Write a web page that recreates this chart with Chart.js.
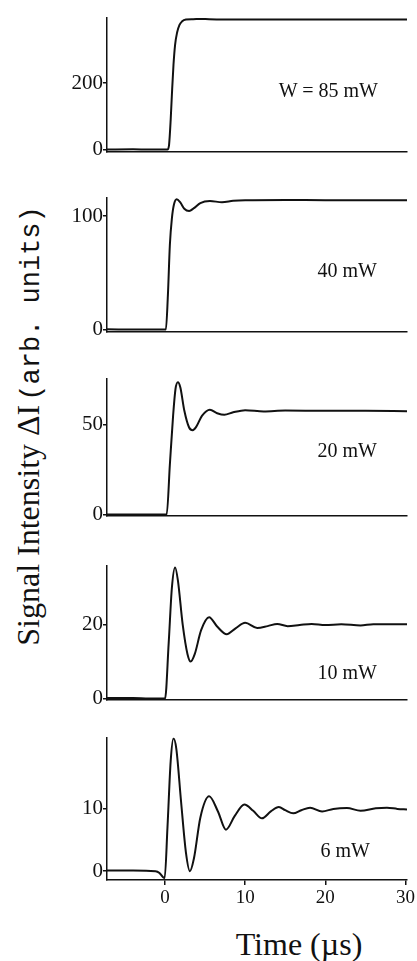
<!DOCTYPE html>
<html>
<head>
<meta charset="utf-8">
<script src="https://cdn.jsdelivr.net/npm/chart.js@4.4.1/dist/chart.umd.min.js"></script>
<style>
  html, body { margin: 0; padding: 0; background: #fff; }
  body { width: 417px; height: 961px; position: relative; overflow: hidden; }
  .panel { position: absolute; left: 0; }
  .lbl { position: absolute; font-family: 'Liberation Serif', 'Times New Roman', serif; font-size: 20px; color: #111; white-space: nowrap; transform: translate(-100%, -50%); }
  #ytitle { position: absolute; left: 28px; top: 426px; white-space: nowrap; color: #111;
    transform: translate(-50%, -50%) rotate(-90deg); }
  #ytitle .s { font-family: 'Liberation Serif', 'Times New Roman', serif; font-size: 32px; }
  #ytitle .m { font-family: 'Liberation Mono', 'Courier New', monospace; font-size: 27px; }
  #xtitle { position: absolute; left: 299px; top: 944px; transform: translate(-50%, -50%); white-space: nowrap;
    font-family: 'Liberation Serif', 'Times New Roman', serif; font-size: 32px; color: #111; }
</style>
</head>
<body>
<div id="ytitle"><span class="s">Signal Intensity ΔI</span> <span class="m">(arb. units)</span></div>
<div id="xtitle">Time (µs)</div>
<script>
// time axis (µs)
var timeMin = -7.25;
var timeMax = 30.2;
var timeTicks = [0, 10, 20, 30];

// power labels
var powers = ['W = 85 mW', '40 mW', '20 mW', '10 mW', '6 mW'];

// traces: [time, signal]
var trace85 = [[-7.25,0],[-4,0.5],[-2,0],[0.3,0],[0.5,15],[0.7,90],[0.85,165],[1.05,255],[1.25,315],[1.5,352],
  [1.8,375],[2.1,385],[2.6,391],[3.5,392],[4.4,393],[5.5,392],[10,391],[15,391.5],[20,391],[25,391],[30.2,391]];
var trace40 = [[-7.25,0.3],[-3,0],[0.1,0],[0.35,30],[0.6,75],[0.85,98],[1.1,110],[1.45,114.8],[1.9,112],[2.4,106.5],
  [3.0,104.5],[3.6,107],[4.4,111.5],[5.6,113.2],[7.1,112.3],[8.5,113.5],[10,114],[15,114.2],[20,114],[30.2,114]];
var trace20 = [[-7.25,0],[0.2,0],[0.6,28],[1.0,55],[1.3,70],[1.6,73.8],[1.9,71],[2.4,58],[3.0,48.5],[3.45,47],
  [3.9,49],[4.6,55],[5.6,58.4],[6.5,56.5],[7.4,55.6],[8.5,57],[10,58.2],[12.3,57.5],[15,58],[20,57.8],[25,57.8],[30.2,57.6]];
var trace10 = [[-7.25,0.1],[-4,0.1],[-2,0],[0,0],[0.45,15],[0.85,30],[1.25,35.5],[1.6,32],[2.2,20],[2.8,12],[3.2,10],
  [3.7,12],[4.5,18.5],[5.5,22],[6.5,19.5],[7.7,17.4],[8.8,19],[10,20.5],[11.5,19.1],[12.8,19.6],[14,20.2],[15.3,19.6],
  [16.8,19.9],[18.3,20.2],[20,19.9],[22,20.1],[24.4,19.8],[26,20.1],[30.2,20.1]];
var trace6 = [[-7.25,0.1],[-4,0.1],[-1.2,0],[-0.7,-0.3],[-0.3,-0.9],[-0.05,-1.1],[0.3,7],[0.7,17.5],[1.05,21.1],
  [1.4,19.5],[2.0,11],[2.6,3],[3.1,0],[3.6,2],[4.4,8.5],[5.5,11.9],[6.6,9.5],[7.6,6.6],[8.7,8.8],[9.9,10.6],[11,9.6],
  [12.1,8.4],[13.2,9.5],[14.2,10.2],[15,9.7],[16,9.2],[17,9.7],[18.1,10.1],[19.6,9.5],[21,9.9],[22.7,10.05],[24.4,9.6],
  [26.3,10],[27.7,10.1],[29,9.9],[30.2,9.8]];

// y ranges and ticks per panel
var yMins = [-5.6, -1.6, -0.5, -0.25, -1.41];
var yMaxs = [397, 116.3, 75.8, 36, 21.25];
var yTicks = [[0, 200], [0, 100], [0, 50], [0, 20], [0, 10]];
var traces = [trace85, trace40, trace20, trace10, trace6];

// layout (page pixels)
var areaTop = [15, 195, 376, 563, 735];
var areaBottom = [160, 340, 524, 708, 880];
var labelPos = [[378, 90], [377, 270], [377, 450], [377, 672], [370, 850]];

var INK = '#111';
var SERIF = "'Liberation Serif', 'Times New Roman', serif";
var PADT = 10;

function makePanel(i) {
  var last = i === traces.length - 1;
  var extra = last ? 36 : 4;
  var h = areaBottom[i] - areaTop[i] + PADT + extra;

  var wrap = document.createElement('div');
  wrap.className = 'panel';
  wrap.style.top = (areaTop[i] - PADT) + 'px';
  var canvas = document.createElement('canvas');
  canvas.width = 417;
  canvas.height = h;
  wrap.appendChild(canvas);
  document.body.appendChild(wrap);

  var lbl = document.createElement('div');
  lbl.className = 'lbl';
  lbl.textContent = powers[i];
  lbl.style.left = labelPos[i][0] + 'px';
  lbl.style.top = labelPos[i][1] + 'px';
  document.body.appendChild(lbl);

  new Chart(canvas, {
    type: 'scatter',
    data: {
      datasets: [{
        data: traces[i].map(function (p) { return { x: p[0], y: p[1] }; }),
        showLine: true,
        borderColor: INK,
        borderWidth: 2,
        pointRadius: 0,
        cubicInterpolationMode: 'monotone'
      }]
    },
    options: {
      responsive: false,
      animation: false,
      layout: { padding: { top: PADT, right: 10, bottom: 0, left: 0 } },
      plugins: { legend: { display: false }, tooltip: { enabled: false } },
      scales: {
        x: {
          type: 'linear',
          min: timeMin,
          max: timeMax,
          afterBuildTicks: function (s) { s.ticks = timeTicks.map(function (v) { return { value: v }; }); },
          afterFit: function (s) { s.height = extra; },
          grid: { display: last, drawOnChartArea: false, drawTicks: true, tickLength: 5, color: INK, lineWidth: 1.5 },
          border: { display: true, color: INK, width: 1.5 },
          ticks: { display: last, color: INK, padding: 2, maxRotation: 0, font: { family: SERIF, size: 19 } }
        },
        y: {
          type: 'linear',
          min: yMins[i],
          max: yMaxs[i],
          afterBuildTicks: function (s) { s.ticks = yTicks[i].map(function (v) { return { value: v }; }); },
          afterFit: function (s) { s.width = 107; },
          grid: { display: true, drawOnChartArea: false, drawTicks: true, tickLength: 4, color: INK, lineWidth: 1.5 },
          border: { display: true, color: INK, width: 1.5 },
          ticks: { color: INK, padding: 0, font: { family: SERIF, size: 21 } }
        }
      }
    }
  });
}

for (var i = 0; i < traces.length; i++) {
  makePanel(i);
}
</script>
</body>
</html>
